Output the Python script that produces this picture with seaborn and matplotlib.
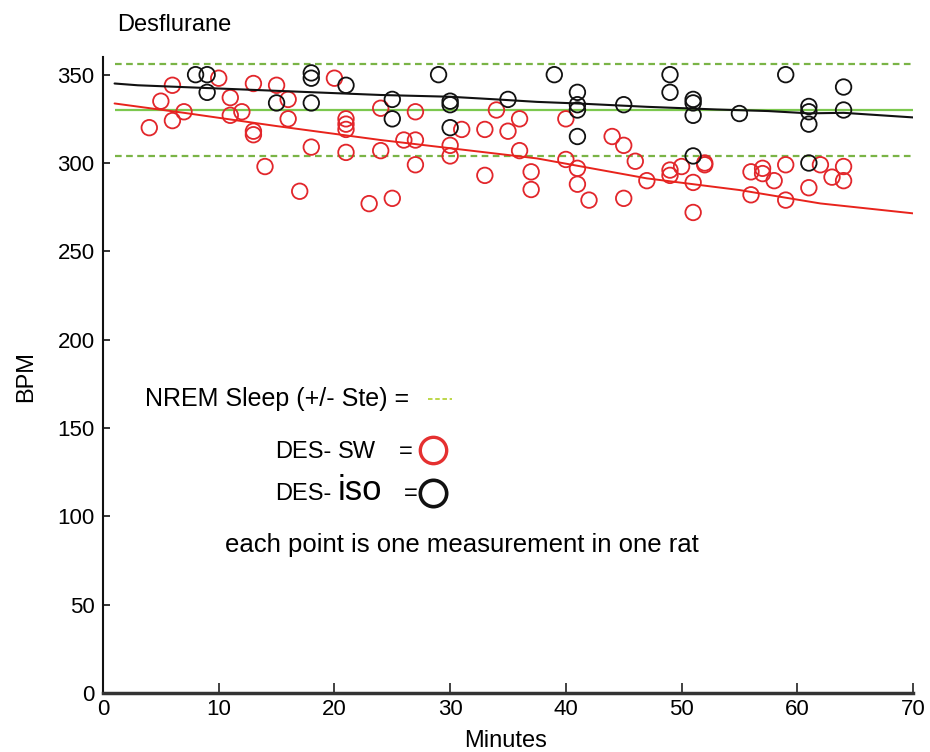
import numpy as np
import pandas as pd
import matplotlib
matplotlib.use("Agg")
import matplotlib.pyplot as plt
import seaborn as sns
from matplotlib.lines import Line2D

# ---------------- data ----------------
sw_min = [4, 5, 6, 6, 7, 10, 11, 11, 12, 13, 13, 13, 14, 15, 16, 16, 17, 18, 20, 21,
          21, 21, 21, 23, 24, 24, 25, 26, 27, 27, 27, 30, 30, 31, 33, 33, 34, 35, 36, 36,
          37, 37, 40, 40, 41, 41, 42, 44, 45, 45, 46, 47, 49, 49, 50, 51, 51, 52, 52, 56,
          56, 57, 57, 58, 59, 59, 61, 62, 63, 64, 64]
sw_bpm = [320, 335, 344, 324, 329, 348, 337, 327, 329, 345, 318, 316, 298, 344, 336, 325, 284, 309, 348, 325,
          322, 319, 306, 277, 331, 307, 280, 313, 329, 313, 299, 310, 304, 319, 319, 293, 330, 318, 325, 307,
          295, 285, 325, 302, 297, 288, 279, 315, 310, 280, 301, 290, 296, 293, 298, 289, 272, 299, 300, 295,
          282, 297, 294, 290, 299, 279, 286, 299, 292, 298, 290]

iso_min = [8, 9, 9, 15, 18, 18, 18, 21, 25, 25, 29, 30, 30, 30, 35, 39, 41, 41, 41, 41,
           45, 49, 49, 51, 51, 51, 51, 55, 59, 61, 61, 61, 61, 64, 64]
iso_bpm = [350, 350, 340, 334, 351, 348, 334, 344, 336, 325, 350, 335, 333, 320, 336, 350, 340, 333, 330, 315,
           333, 350, 340, 336, 334, 327, 304, 328, 350, 332, 329, 322, 300, 343, 330]

iso_trend_min = [1, 3, 24, 30, 34, 37.5, 41, 47, 53, 57.5, 61, 64, 70]
iso_trend_bpm = [345, 344, 338.5, 337.5, 336, 334.6, 333.7, 331.8, 330.3, 329.4, 328.1, 328.4, 325.8]

sw_trend_min = [1, 7, 15, 24, 37.5, 47, 55, 62, 70]
sw_trend_bpm = [333.7, 328.4, 320.9, 313.0, 302.6, 291.3, 284.7, 277.1, 271.5]

nrem_mean = 330
nrem_ste = 26
nrem_span = [1, 70]

x_ticks = [0, 10, 20, 30, 40, 50, 60, 70]
y_ticks = [0, 50, 100, 150, 200, 250, 300, 350]

RED = "#e2262b"
BLACK = "#111111"
GREEN = "#7cc84e"
GREEN_D = "#7ab446"

# ---------------- figure ----------------
sns.set_style("ticks")
plt.rcParams["font.family"] = ["Liberation Sans", "DejaVu Sans"]
plt.rcParams["text.color"] = "black"
plt.rcParams["axes.labelcolor"] = "black"
plt.rcParams["xtick.labelcolor"] = "black"
plt.rcParams["ytick.labelcolor"] = "black"

W, H = 930, 752
fig = plt.figure(figsize=(W / 100, H / 100), dpi=100)
ax = fig.add_axes([103 / W, (H - 693) / H, 810 / W, 636 / H])

def px(x, y):
    return x / W, 1 - y / H

# NREM reference lines
ax.hlines(nrem_mean, nrem_span[0], nrem_span[1], color=GREEN, lw=1.6, zorder=1.5)
ax.hlines([nrem_mean + nrem_ste, nrem_mean - nrem_ste], nrem_span[0], nrem_span[1],
          color=GREEN_D, lw=1.6, linestyles=(0, (3, 2)), zorder=1.5)

# trend lines
sns.lineplot(x=iso_trend_min, y=iso_trend_bpm, color=BLACK, lw=1.5, sort=False,
             estimator=None, ax=ax, zorder=3)
sns.lineplot(x=sw_trend_min, y=sw_trend_bpm, color="#e8231c", lw=1.4, sort=False,
             estimator=None, ax=ax, zorder=3)

# points
sns.scatterplot(x=sw_min, y=sw_bpm, s=125, color=RED, edgecolor=RED, linewidth=1.3,
                ax=ax, zorder=2)
ax.collections[-1].set_facecolor("none")
sns.scatterplot(x=iso_min, y=iso_bpm, s=125, color=BLACK, edgecolor=BLACK, linewidth=1.3,
                ax=ax, zorder=2)
ax.collections[-1].set_facecolor("none")

# axes styling
ax.set_xlim(0, 70)
ax.set_ylim(0, 360)
ax.set_xticks(x_ticks)
ax.set_yticks(y_ticks)
ax.set_xticklabels([str(v) for v in x_ticks])
ax.set_yticklabels([str(v) for v in y_ticks])
for s in ["top", "right"]:
    ax.spines[s].set_visible(False)
ax.spines["left"].set_linewidth(1.5)
ax.spines["left"].set_color("#111111")
ax.spines["bottom"].set_linewidth(2.5)
ax.spines["bottom"].set_color("#333333")
ax.tick_params(axis="x", direction="in", length=7, width=1.3, color="#333333",
               labelsize=16, pad=4, labelcolor="black")
ax.tick_params(axis="y", direction="in", length=5, width=1.2, color="#111111",
               labelsize=16, pad=6, labelcolor="black")

ax.set_xlabel("Minutes", fontsize=17, color="black")
ax.set_ylabel("BPM", fontsize=17, color="black")
ax.xaxis.set_label_coords((506 - 103) / 810, (693 - 730) / 636)
ax.yaxis.set_label_coords((37 - 103) / 810, (693 - 377) / 636)

# title
fig.text(*px(117, 31), "Desflurane", fontsize=17, ha="left", va="baseline", color="black")

# in-plot key
fig.text(*px(145, 406), "NREM Sleep (+/- Ste) =", fontsize=18, ha="left", va="baseline",
         color="black")
fig.add_artist(Line2D([428 / W, 452 / W], [1 - 399 / H, 1 - 399 / H], color="#b8d43a",
                      lw=1.3, linestyle=(0, (2.5, 1.5))))

fig.text(*px(275, 458), "DES-", fontsize=17, ha="left", va="baseline", color="black")
fig.text(*px(338, 458), "SW", fontsize=17, ha="left", va="baseline", color="black")
fig.text(*px(399, 458), "=", fontsize=17, ha="left", va="baseline", color="black")
fig.add_artist(Line2D([433 / W], [1 - 450 / H], marker="o", markersize=19,
                      markerfacecolor="none", markeredgecolor="#e53030", markeredgewidth=2.4))

fig.text(*px(275, 500), "DES-", fontsize=17, ha="left", va="baseline", color="black")
fig.text(*px(338, 500), "iso", fontsize=25, ha="left", va="baseline", color="black")
fig.text(*px(404, 500), "=", fontsize=17, ha="left", va="baseline", color="black")
fig.add_artist(Line2D([433 / W], [1 - 493 / H], marker="o", markersize=19,
                      markerfacecolor="none", markeredgecolor="#111111", markeredgewidth=2.6))

fig.text(*px(225, 552), "each point is one measurement in one rat", fontsize=18.5,
         ha="left", va="baseline", color="black")

fig.savefig("out.png", dpi=100, facecolor="white")
